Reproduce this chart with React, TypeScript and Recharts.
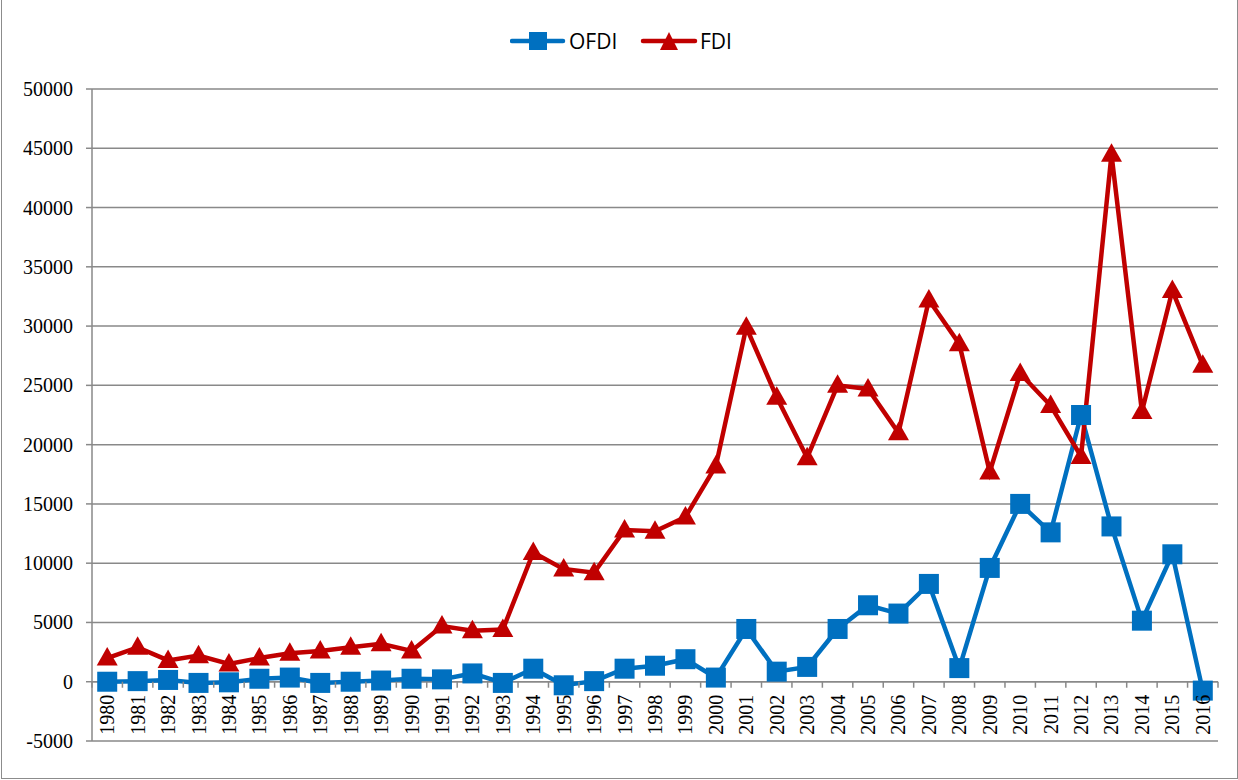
import React from 'react';
import { LineChart, Line, XAxis, YAxis, CartesianGrid, ReferenceLine } from 'recharts';

const YEARS = [
  '1980', '1981', '1982', '1983', '1984', '1985', '1986', '1987', '1988', '1989',
  '1990', '1991', '1992', '1993', '1994', '1995', '1996', '1997', '1998', '1999',
  '2000', '2001', '2002', '2003', '2004', '2005', '2006', '2007', '2008', '2009',
  '2010', '2011', '2012', '2013', '2014', '2015', '2016',
];

const OFDI = [
  0, 50, 150, -100, -50, 250, 350, -100, 0, 100,
  250, 200, 700, -100, 1100, -300, 50, 1100, 1350, 1900,
  350, 4450, 850, 1250, 4450, 6450, 5750, 8250, 1150, 9600,
  15000, 12600, 22500, 13100, 5150, 10750, -750,
];

const FDI = [
  2000, 2900, 1800, 2200, 1500, 2000, 2400, 2600, 2900, 3200,
  2600, 4700, 4300, 4400, 10900, 9500, 9200, 12800, 12700, 13900,
  18200, 29900, 24000, 18900, 25000, 24700, 21000, 32200, 28500, 17700,
  26000, 23300, 19000, 44500, 22800, 33000, 26700,
];

const Y_TICKS = [-5000, 0, 5000, 10000, 15000, 20000, 25000, 30000, 35000, 40000, 45000, 50000];
const Y_MIN = -5000;
const Y_MAX = 50000;

const BLUE = '#0070C0';
const RED = '#C00000';
const GRID = '#898989';
const SERIF = '"Times New Roman", "Liberation Serif", Times, serif';

const W = 1238;
const H = 780;
const X_AXIS_H = 1;
const MARGIN = { top: 89, right: 20, bottom: 38, left: 0 };
const Y_AXIS_W = 92;
const PLOT_W = W - MARGIN.left - MARGIN.right - Y_AXIS_W;
const PLOT_H = H - MARGIN.top - MARGIN.bottom - X_AXIS_H;
const BAND = PLOT_W / YEARS.length;
// the category axis crosses at zero, like the Excel original
const ZERO_Y = MARGIN.top + (PLOT_H * Y_MAX) / (Y_MAX - Y_MIN);

const data = YEARS.map((year, i) => ({ year, OFDI: OFDI[i], FDI: FDI[i] }));

const SquareDot = (props: any) => {
  const { cx, cy, index } = props;
  if (cx == null || cy == null) return null;
  return <rect key={`sq-${index}`} x={cx - 10} y={cy - 10} width={20} height={20} fill={BLUE} />;
};

const TriangleDot = (props: any) => {
  const { cx, cy, index } = props;
  if (cx == null || cy == null) return null;
  return (
    <polygon
      key={`tri-${index}`}
      points={`${cx},${cy - 11} ${cx - 10.5},${cy + 7.5} ${cx + 10.5},${cy + 7.5}`}
      fill={RED}
    />
  );
};

const YearTick = (props: any) => {
  const { x, payload, index } = props;
  const ty = ZERO_Y + 13;
  return (
    <g>
      <line x1={x - BAND / 2} x2={x - BAND / 2} y1={ZERO_Y} y2={ZERO_Y + 6} stroke={GRID} strokeWidth={1.5} />
      {index === YEARS.length - 1 && (
        <line x1={x + BAND / 2} x2={x + BAND / 2} y1={ZERO_Y} y2={ZERO_Y + 6} stroke={GRID} strokeWidth={1.5} />
      )}
      <text
        x={x}
        y={ty}
        transform={`rotate(-90, ${x}, ${ty})`}
        textAnchor="end"
        dominantBaseline="central"
        style={{ fontFamily: SERIF }}
        fontSize={20}
        fill="#000"
      >
        {payload.value}
      </text>
    </g>
  );
};

const ValueTick = (props: any) => {
  const { x, y, payload } = props;
  return (
    <text x={x} y={y} textAnchor="end" dominantBaseline="central" style={{ fontFamily: SERIF }} fontSize={20} fill="#000">
      {payload.value}
    </text>
  );
};

const ChartLegend = () => (
  <svg width={240} height={40} style={{ position: 'absolute', left: 510, top: 22 }}>
    <line x1={2} x2={53} y1={19} y2={19} stroke={BLUE} strokeWidth={4.5} strokeLinecap="round" />
    <rect x={19} y={10} width={18} height={18} fill={BLUE} />
    <text x={59} y={19} dominantBaseline="central" fontFamily="Open Sans, sans-serif" fontSize={21} fill="#000">
      OFDI
    </text>
    <line x1={133} x2={185} y1={19} y2={19} stroke={RED} strokeWidth={4.5} strokeLinecap="round" />
    <polygon points="159,10 150,28 168,28" fill={RED} />
    <text x={190} y={19} dominantBaseline="central" fontFamily="Open Sans, sans-serif" fontSize={21} fill="#000">
      FDI
    </text>
  </svg>
);

export default function App() {
  return (
    <div style={{ position: 'absolute', left: 0, top: 0, width: W, height: H, background: '#fff' }}>
      <LineChart width={W} height={H} data={data} margin={MARGIN}>
        <CartesianGrid vertical={false} stroke={GRID} strokeWidth={1.5} />
        <XAxis
          dataKey="year"
          height={X_AXIS_H}
          interval={0}
          padding={{ left: BAND / 2, right: BAND / 2 }}
          axisLine={false}
          tickLine={false}
          tick={YearTick}
        />
        <YAxis
          width={Y_AXIS_W}
          domain={[Y_MIN, Y_MAX]}
          ticks={Y_TICKS}
          interval={0}
          axisLine={{ stroke: GRID, strokeWidth: 1.5 }}
          tickLine={{ stroke: GRID, strokeWidth: 1.5 }}
          tickSize={6}
          tickMargin={13}
          tick={ValueTick}
        />
        <ReferenceLine y={0} stroke={GRID} strokeWidth={1.5} />
        <Line
          dataKey="OFDI"
          type="linear"
          stroke={BLUE}
          strokeWidth={4.5}
          dot={SquareDot}
          activeDot={false}
          isAnimationActive={false}
        />
        <Line
          dataKey="FDI"
          type="linear"
          stroke={RED}
          strokeWidth={4.5}
          dot={TriangleDot}
          activeDot={false}
          isAnimationActive={false}
        />
      </LineChart>
      <ChartLegend />
      <div
        style={{
          position: 'absolute',
          left: 1,
          top: 0,
          width: W - 3,
          height: H - 2,
          border: '1px solid #8c8c8c',
          borderTop: 'none',
          pointerEvents: 'none',
        }}
      />
    </div>
  );
}
